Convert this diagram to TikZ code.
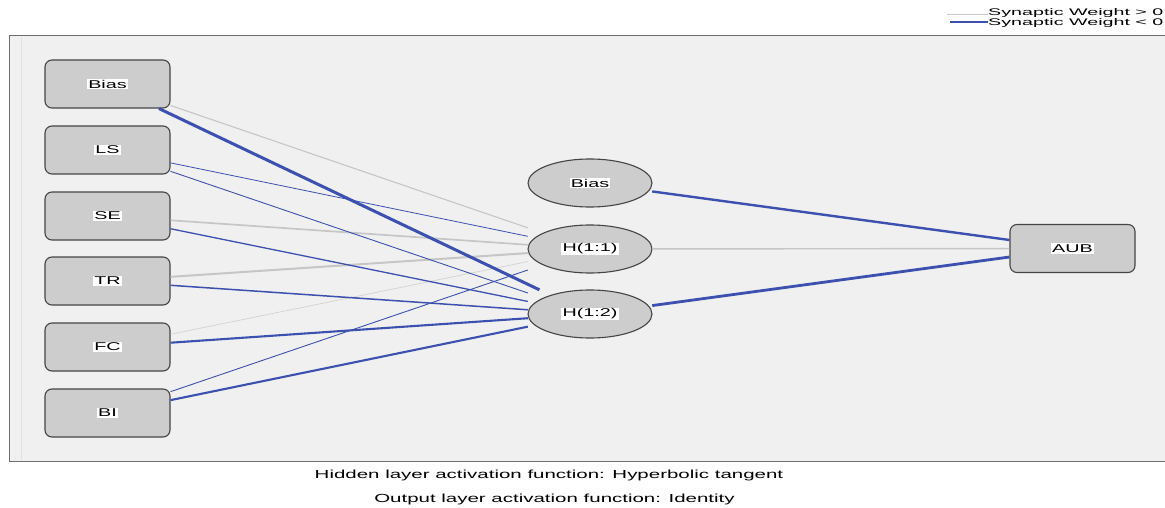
\documentclass[tikz,border=0pt]{standalone}
\usepackage{fontspec}
\setmainfont{Liberation Sans}
\newfontfamily\wfont[FakeStretch=1.75]{Liberation Sans}
\newfontfamily\legfont[FakeStretch=2.05]{Liberation Sans}
\definecolor{panelbg}{HTML}{F0F0F0}
\definecolor{panelline}{HTML}{6E6E6E}
\definecolor{nodefill}{HTML}{CDCDCD}
\definecolor{nodeline}{HTML}{454545}
\definecolor{poscol}{HTML}{C6C6C6}
\definecolor{negcol}{HTML}{3C50B0}
\newcommand\nlbl[1]{{\setlength{\fboxsep}{1.2pt}\colorbox{white}{\wfont\fontsize{11.3}{13}\selectfont #1}}}
\begin{document}
\begin{tikzpicture}[x=1pt,y=-1pt,
  inbox/.style={draw=nodeline, line width=1.1pt, fill=nodefill, rounded corners=7pt,
    minimum width=125pt, minimum height=48pt, inner sep=0pt},
  hidbox/.style={minimum width=124pt, minimum height=48pt, inner sep=0pt},
  hidshape/.style={draw=nodeline, line width=1.1pt, fill=nodefill},
  poswt/.style={draw=poscol},
  negwt/.style={draw=negcol},
  txt/.style={inner sep=2pt, font=\wfont\fontsize{11.7}{14}\selectfont},
  legtxt/.style={inner sep=0pt, anchor=west, font=\legfont\fontsize{9.6}{11}\selectfont}
]
\useasboundingbox (0,0) rectangle (1165,508);
% panel
\fill[panelbg] (9,36) rectangle (1166,461);
\draw[white!88!black, line width=0.6pt] (21,37) -- (21,460);
\draw[panelline, line width=1pt] (1166,36) -- (9,36) -- (9,461) -- (1166,461);

% hidden layer positions and ellipses
\coordinate (phb) at (590,183);
\coordinate (ph1) at (590,249);
\coordinate (ph2) at (590,314);
\foreach \p in {phb,ph1,ph2}
  \draw[hidshape] (\p) ellipse [x radius=62pt, y radius=24pt];

% input nodes
\node[inbox] (ib) at (107.5,84)  {\nlbl{Bias}};
\node[inbox] (ls) at (107.5,150) {\nlbl{LS}};
\node[inbox] (se) at (107.5,216) {\nlbl{SE}};
\node[inbox] (tr) at (107.5,281) {\nlbl{TR}};
\node[inbox] (fc) at (107.5,347) {\nlbl{FC}};
\node[inbox] (bi) at (107.5,413) {\nlbl{BI}};

% hidden nodes
\node[hidbox] (hb) at (phb) {\nlbl{Bias}};
\node[hidbox] (h1) at (ph1) {\nlbl{H(1:1)}};
\node[hidbox] (h2) at (ph2) {\nlbl{H(1:2)}};

% output node
\node[inbox] (aub) at (1072.5,248.5) {\nlbl{AUB}};

% input -> H(1:1)
\draw[poswt, line width=1.1pt] (ib) -- (h1);
\draw[negwt, line width=0.8pt] (ls) -- (h1);
\draw[poswt, line width=1.7pt] (se) -- (h1);
\draw[poswt, line width=2.0pt] (tr) -- (h1);
\draw[poswt, line width=0.7pt, opacity=0.7] (fc) -- (h1);
\draw[negwt, line width=0.9pt] (bi) -- (h1);
% input -> H(1:2)
\draw[negwt, line width=3.0pt] (ib) -- (h2);
\draw[negwt, line width=0.9pt] (ls) -- (h2);
\draw[negwt, line width=1.3pt] (se) -- (h2);
\draw[negwt, line width=1.5pt] (tr) -- (h2);
\draw[negwt, line width=2.1pt] (fc) -- (h2);
\draw[negwt, line width=2.1pt] (bi) -- (h2);
% hidden -> output
\draw[negwt, line width=2.4pt] (hb) -- (aub);
\draw[poswt, line width=1.4pt] (h1) -- (aub);
\draw[negwt, line width=2.8pt] (h2) -- (aub);

% legend
\node[legtxt] (lg1) at (988,13.2) {Synaptic Weight > 0};
\node[legtxt] (lg2) at (988,22.6) {Synaptic Weight < 0};
\coordinate (l1s) at (947,14);
\coordinate (l2s) at (950,22);
\draw[poswt, line width=0.8pt] (l1s) -- (l1s -| lg1.west);
\draw[negwt, line width=1.1pt] (l2s) -- (l2s -| lg2.west);

% captions
\node[txt] (cap1) at (549,475) {Hidden layer activation function: Hyperbolic tangent};
\node[txt] (cap2) at (554.5,499) {Output layer activation function: Identity};
\end{tikzpicture}
\end{document}
